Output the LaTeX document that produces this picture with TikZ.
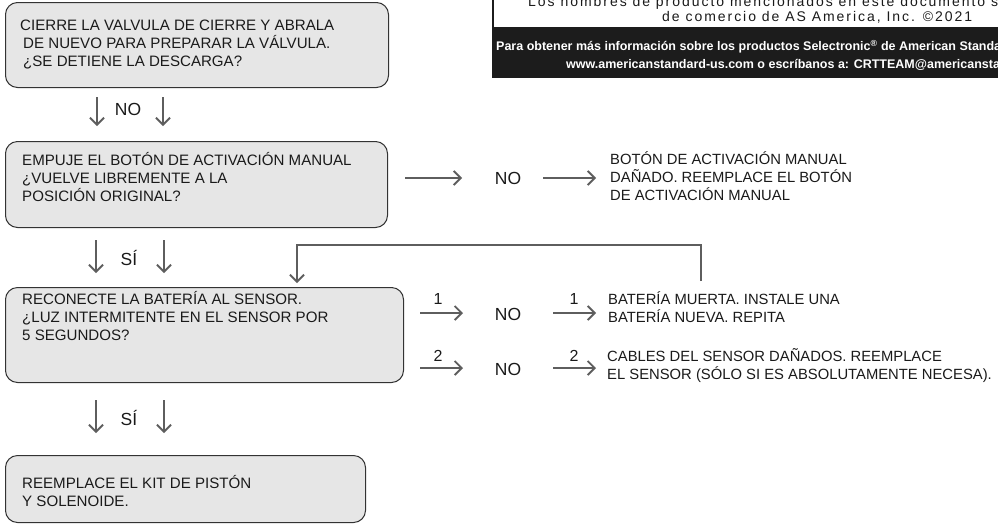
\documentclass[tikz,border=0pt]{standalone}
\usepackage{fontspec}
\setmainfont{Liberation Sans}
\newfontfamily\spaced[LetterSpace=14]{Liberation Sans}
\usetikzlibrary{arrows.meta}
\definecolor{boxfill}{HTML}{E6E6E6}
\definecolor{boxline}{HTML}{333333}
\definecolor{arrowc}{HTML}{5E5E5E}
\definecolor{band}{HTML}{1C1C1C}
\definecolor{txtc}{HTML}{1A1A1A}
\tikzset{
 box/.style={draw=boxline, fill=boxfill, line width=1pt, rounded corners=12pt, anchor=north west, inner sep=0pt},
 txt/.style={inner sep=0pt, align=left, text=txtc, font=\fontsize{15.1}{18}\selectfont, anchor=west},
 rtxt/.style={inner sep=0pt, align=left, text=txtc, font=\fontsize{14.8}{18}\selectfont, anchor=west},
 big/.style={inner sep=0pt, text=txtc, font=\fontsize{17.5}{20}\selectfont},
 num/.style={inner sep=0pt, text=txtc, font=\fontsize{16}{18}\selectfont},
 arr/.style={draw=arrowc, line width=1.9pt, -{Straight Barb[length=7pt,width=14pt,line width=1.9pt]}},
 bandtxt/.style={inner sep=0pt, anchor=west, text=white, font=\fontsize{12.5}{15}\selectfont\bfseries},
 notetxt/.style={inner sep=0pt, anchor=west, text=txtc, font=\fontsize{14}{15}\spaced},
}
\begin{document}
\begin{tikzpicture}[x=1pt,y=-1pt]
\useasboundingbox (0,0) rectangle (998,523);
\clip (0,0) rectangle (998,523);
% top-right note
\fill[white] (493,0) rectangle (998,27);
\fill[band] (492,27) rectangle (998,78);
\draw[line width=2pt, band] (493,0) -- (493,27);
\node[notetxt] (note1) at (528,3) {Los nombres de producto mencionados en este documento son marcas};
\node[notetxt] (note2) at (662,17) {de comercio de AS America, Inc. ©2021};
\node[bandtxt] (band1) at (496,47) {Para obtener más información sobre los productos Selectronic\textsuperscript{®} de American Standard};
\node[bandtxt] (band2) at (566,65) {www.americanstandard-us.com o escríbanos a: CRTTEAM@americanstandard.com};
% boxes
\node[box, minimum width=383pt, minimum height=85pt] (b1) at (5,2) {};
\node[box, minimum width=382pt, minimum height=86pt] (b2) at (5,141) {};
\node[box, minimum width=398pt, minimum height=95pt] (b3) at (5,287) {};
\node[box, minimum width=360pt, minimum height=67pt] (b4) at (5,455) {};
\node[txt] (t1) at (20,45) {CIERRE LA VALVULA DE CIERRE Y ABRALA\\\hspace*{3pt}DE NUEVO PARA PREPARAR LA VÁLVULA.\\\hspace*{3pt}¿SE DETIENE LA DESCARGA?};
\node[txt] (t2) at (22,177) {EMPUJE EL BOTÓN DE ACTIVACIÓN MANUAL\\¿VUELVE LIBREMENTE A LA\\POSICIÓN ORIGINAL?};
\node[txt] (t3) at (22,316) {RECONECTE LA BATERÍA AL SENSOR.\\¿LUZ INTERMITENTE EN EL SENSOR POR\\5 SEGUNDOS?};
\node[txt] (t4) at (22,491) {REEMPLACE EL KIT DE PISTÓN\\Y SOLENOIDE.};
% right texts
\node[rtxt] (r2) at (610,176) {BOTÓN DE ACTIVACIÓN MANUAL\\DAÑADO. REEMPLACE EL BOTÓN\\DE ACTIVACIÓN MANUAL};
\node[rtxt] (r3a) at (608,307) {BATERÍA MUERTA. INSTALE UNA\\BATERÍA NUEVA. REPITA};
\node[rtxt] (r3b) at (607,366) {CABLES DEL SENSOR DAÑADOS. REEMPLACE\\EL SENSOR (SÓLO SI ES ABSOLUTAMENTE NECESA).};
% labels
\node[big] (no0) at (128,109) {NO};
\node[big] (si1) at (129,258) {SÍ};
\node[big] (si2) at (129,418) {SÍ};
\node[big] (no2) at (508,178) {NO};
\node[big] (no3a) at (508,314) {NO};
\node[big] (no3b) at (508,369) {NO};
\node[num] (l1a) at (438,299) {1};
\node[num] (l1b) at (574,299) {1};
\node[num] (l2a) at (438,356) {2};
\node[num] (l2b) at (574,356) {2};
% arrow coordinates
\coordinate (a0s) at (97,97);  \coordinate (a0e) at (97,126);
\coordinate (a1s) at (163,97); \coordinate (a1e) at (163,126);
\coordinate (s1as) at (96,240);  \coordinate (s1ae) at (96,273);
\coordinate (s1bs) at (164,240); \coordinate (s1be) at (164,273);
\coordinate (s2as) at (96,400);  \coordinate (s2ae) at (96,433);
\coordinate (s2bs) at (164,400); \coordinate (s2be) at (164,433);
\draw[arr] (a0s) -- (a0e);
\draw[arr] (a1s) -- (a1e);
\draw[arr] (s1as) -- (s1ae);
\draw[arr] (s1bs) -- (s1be);
\draw[arr] (s2as) -- (s2ae);
\draw[arr] (s2bs) -- (s2be);
% row arrows
\coordinate (h2as) at (405,178); \coordinate (h2ae) at (462,178);
\coordinate (h2bs) at (543,178); \coordinate (h2be) at (596,178);
\coordinate (h3as) at (420,313); \coordinate (h3ae) at (463,313);
\coordinate (h3bs) at (553,313); \coordinate (h3be) at (596,313);
\coordinate (h4as) at (420,368); \coordinate (h4ae) at (463,368);
\coordinate (h4bs) at (553,368); \coordinate (h4be) at (596,368);
\draw[arr] (h2as) -- (h2ae);
\draw[arr] (h2bs) -- (h2be);
\draw[arr] (h3as) -- (h3ae);
\draw[arr] (h3bs) -- (h3be);
\draw[arr] (h4as) -- (h4ae);
\draw[arr] (h4bs) -- (h4be);
% feedback loop
\coordinate (fbs) at (701,281);
\coordinate (fbe) at (297,283);
\draw[arr] (fbs) -- (701,245) -- (297,245) -- (fbe);
\end{tikzpicture}
\end{document}
